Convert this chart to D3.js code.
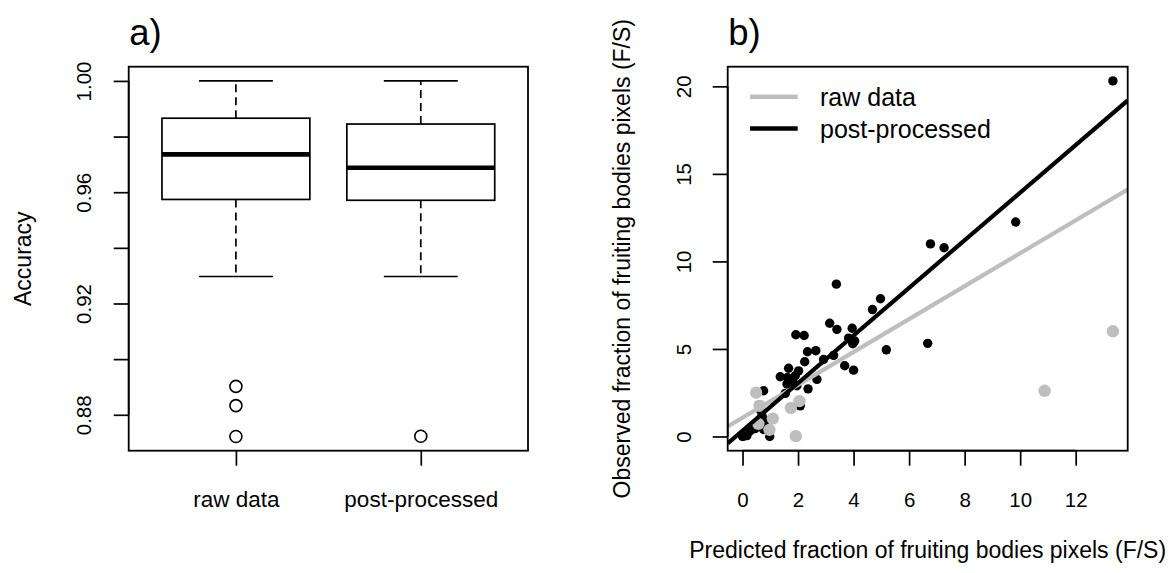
<!DOCTYPE html>
<html><head><meta charset="utf-8">
<script src="https://cdn.jsdelivr.net/npm/d3@7"></script>
<style>
body{margin:0;background:#fff}
svg{display:block;background:#fff}
text{font-family:"Liberation Sans",Arial,Helvetica,sans-serif;fill:#000}
</style>
</head><body>
<svg id="chart" width="1169" height="573"></svg>
<script>
// ---------- data: panel a (box plot) ----------
const groups = ["raw data", "post-processed"];
const whiskerHigh = [1.0, 1.0];
const boxQ3 = [0.9866, 0.9845];
const boxMedian = [0.9736, 0.9688];
const boxQ1 = [0.9574, 0.9571];
const whiskerLow = [0.9297, 0.9297];
const outliersRaw = [0.8902, 0.8833, 0.8722];
const outliersPost = [0.8723];
const accTicks = [0.88, 0.90, 0.92, 0.94, 0.96, 0.98, 1.00];
const accTickLabels = ["0.88", "", "0.92", "", "0.96", "", "1.00"];

// ---------- data: panel b (scatter) ----------
const rawX = [0.49, 0.57, 0.62, 1.09, 0.97, 1.74, 2.05, 1.92, 10.88, 13.34];
const rawY = [2.50, 0.72, 1.75, 1.02, 0.38, 1.63, 2.02, 0.02, 2.61, 6.01];
const postX = [13.34, 9.84, 6.77, 7.26, 6.67, 5.18, 4.97, 4.68, 3.38, 3.14,
  3.40, 3.95, 3.82, 3.97, 4.04, 1.92, 2.22, 2.34, 2.64, 2.24,
  2.92, 3.28, 3.68, 4.00, 1.66, 2.02, 1.36, 1.62, 1.90, 2.68,
  2.36, 1.96, 1.60, 1.54, 1.82, 0.76, 0.58, 0.70, 0.76, 0.98,
  0.00, 0.06, 0.16, 0.28, 0.40, 2.08, 0.65, 0.45, 0.82];
const postY = [20.31, 12.25, 11.00, 10.78, 5.32, 4.95, 7.87, 7.25, 8.70, 6.47,
  6.12, 6.18, 5.62, 5.30, 5.45, 5.81, 5.77, 4.84, 4.90, 4.27,
  4.40, 4.63, 4.04, 3.79, 3.90, 3.75, 3.41, 3.37, 3.47, 3.26,
  2.72, 2.90, 3.00, 2.46, 3.10, 2.61, 1.79, 1.20, 0.40, 0.00,
  0.00, 0.03, 0.05, 0.33, 0.55, 1.75, 1.50, 0.45, 0.90];
const fitRaw = [1.07, 0.94];   // intercept, slope
const fitPost = [0.33, 1.36];  // intercept, slope
const xTicks = [0, 2, 4, 6, 8, 10, 12];
const yTicks = [0, 5, 10, 15, 20];
const legendLabels = ["raw data", "post-processed"];

// ---------- layout ----------
const GREY = "#BEBEBE";
const pTop = 66.7, pBottom = 450.7;
const pA = {l: 128.7, r: 528};
const pB = {l: 727.7, r: 1127.7};
const svg = d3.select("#chart");
svg.append("rect").attr("width", 1169).attr("height", 573).attr("fill", "#fff");

function padDomain(lo, hi) { const d = (hi - lo) * 0.04; return [lo - d, hi + d]; }

function styleAxis(g) {
  g.selectAll("line").attr("stroke", "#000").attr("stroke-width", 1.7);
  g.select(".domain").remove();
}

// ================= panel a =================
const allAcc = [...whiskerHigh, ...whiskerLow, ...outliersRaw, ...outliersPost];
const yA = d3.scaleLinear().domain(padDomain(d3.min(allAcc), d3.max(allAcc))).range([pBottom, pTop]);
const xA = d3.scaleLinear().domain([0.42, 2.58]).range([pA.l, pA.r]);
const gA = svg.append("g");
const outliers = [outliersRaw, outliersPost];

groups.forEach((name, i) => {
  const cx = xA(i + 1);
  const hw = xA(0.4) - xA(0);
  const cw = xA(0.2) - xA(0);
  gA.append("line").attr("x1", cx).attr("x2", cx).attr("y1", yA(boxQ3[i])).attr("y2", yA(whiskerHigh[i]))
    .attr("stroke", "#000").attr("stroke-width", 1.7).attr("stroke-dasharray", "8,5");
  gA.append("line").attr("x1", cx).attr("x2", cx).attr("y1", yA(boxQ1[i])).attr("y2", yA(whiskerLow[i]))
    .attr("stroke", "#000").attr("stroke-width", 1.7).attr("stroke-dasharray", "8,5");
  [whiskerHigh[i], whiskerLow[i]].forEach(v => {
    gA.append("line").attr("x1", cx - cw).attr("x2", cx + cw).attr("y1", yA(v)).attr("y2", yA(v))
      .attr("stroke", "#000").attr("stroke-width", 1.7);
  });
  gA.append("rect").attr("x", cx - hw).attr("width", 2 * hw)
    .attr("y", yA(boxQ3[i])).attr("height", yA(boxQ1[i]) - yA(boxQ3[i]))
    .attr("fill", "#fff").attr("stroke", "#000").attr("stroke-width", 1.7);
  gA.append("line").attr("x1", cx - hw).attr("x2", cx + hw).attr("y1", yA(boxMedian[i])).attr("y2", yA(boxMedian[i]))
    .attr("stroke", "#000").attr("stroke-width", 4.6);
  gA.selectAll(null).data(outliers[i]).enter().append("circle")
    .attr("cx", cx).attr("cy", d => yA(d)).attr("r", 6)
    .attr("fill", "none").attr("stroke", "#000").attr("stroke-width", 1.6);
});

gA.append("rect").attr("x", pA.l).attr("y", pTop).attr("width", pA.r - pA.l).attr("height", pBottom - pTop)
  .attr("fill", "none").attr("stroke", "#000").attr("stroke-width", 1.8);

const axYA = gA.append("g").attr("transform", `translate(${pA.l},0)`)
  .call(d3.axisLeft(yA).tickValues(accTicks).tickSize(15).tickFormat((d, i) => accTickLabels[i]));
styleAxis(axYA);
axYA.selectAll("text").attr("x", 0).attr("dy", 0).attr("text-anchor", "middle")
  .attr("transform", "translate(-38,0) rotate(-90)").style("font-size", "20.5px");
gA.append("line").attr("x1", pA.l).attr("x2", pA.l).attr("y1", yA(accTicks[0])).attr("y2", yA(accTicks[accTicks.length - 1]))
  .attr("stroke", "#000").attr("stroke-width", 1.7);

const axXA = gA.append("g").attr("transform", `translate(0,${pBottom})`)
  .call(d3.axisBottom(xA).tickValues([1, 2]).tickSize(15).tickFormat((d) => groups[d - 1]));
styleAxis(axXA);
axXA.selectAll("text").attr("y", 56).attr("dy", 0).style("font-size", "22.5px");

gA.append("text").attr("transform", `translate(31,${(pTop + pBottom) / 2}) rotate(-90)`)
  .attr("text-anchor", "middle").style("font-size", "23px").text("Accuracy");
gA.append("text").attr("x", pA.l + 0.6).attr("y", 45).style("font-size", "36.5px").text("a)");

// ================= panel b =================
const xB = d3.scaleLinear().domain(padDomain(d3.min([...rawX, ...postX]), d3.max([...rawX, ...postX]))).range([pB.l, pB.r]);
const yB = d3.scaleLinear().domain(padDomain(d3.min([...rawY, ...postY]), d3.max([...rawY, ...postY]))).range([pBottom, pTop]);
const gB = svg.append("g");
svg.append("clipPath").attr("id", "clipB").append("rect")
  .attr("x", pB.l).attr("y", pTop).attr("width", pB.r - pB.l).attr("height", pBottom - pTop);

const plotB = gB.append("g").attr("clip-path", "url(#clipB)");
plotB.selectAll("circle.post").data(postX.map((x, i) => [x, postY[i]])).enter().append("circle")
  .attr("class", "post").attr("cx", d => xB(d[0])).attr("cy", d => yB(d[1])).attr("r", 4.7).attr("fill", "#000");
plotB.selectAll("circle.raw").data(rawX.map((x, i) => [x, rawY[i]])).enter().append("circle")
  .attr("class", "raw").attr("cx", d => xB(d[0])).attr("cy", d => yB(d[1])).attr("r", 6.2).attr("fill", GREY);

const xd = xB.domain();
[[fitRaw, GREY], [fitPost, "#000"]].forEach(([f, col]) => {
  plotB.append("line")
    .attr("x1", xB(xd[0])).attr("y1", yB(f[0] + f[1] * xd[0]))
    .attr("x2", xB(xd[1])).attr("y2", yB(f[0] + f[1] * xd[1]))
    .attr("stroke", col).attr("stroke-width", 4.2);
});

gB.append("rect").attr("x", pB.l).attr("y", pTop).attr("width", pB.r - pB.l).attr("height", pBottom - pTop)
  .attr("fill", "none").attr("stroke", "#000").attr("stroke-width", 1.8);

const axYB = gB.append("g").attr("transform", `translate(${pB.l},0)`)
  .call(d3.axisLeft(yB).tickValues(yTicks).tickSize(15).tickFormat(d3.format("d")));
styleAxis(axYB);
axYB.selectAll("text").attr("x", 0).attr("dy", 0).attr("text-anchor", "middle")
  .attr("transform", "translate(-37,0) rotate(-90)").style("font-size", "20.5px");
gB.append("line").attr("x1", pB.l).attr("x2", pB.l).attr("y1", yB(yTicks[0])).attr("y2", yB(yTicks[yTicks.length - 1]))
  .attr("stroke", "#000").attr("stroke-width", 1.7);

const axXB = gB.append("g").attr("transform", `translate(0,${pBottom})`)
  .call(d3.axisBottom(xB).tickValues(xTicks).tickSize(15).tickFormat(d3.format("d")));
styleAxis(axXB);
axXB.selectAll("text").attr("y", 56).attr("dy", 0).style("font-size", "20.5px");
gB.append("line").attr("y1", pBottom).attr("y2", pBottom).attr("x1", xB(xTicks[0])).attr("x2", xB(xTicks[xTicks.length - 1]))
  .attr("stroke", "#000").attr("stroke-width", 1.7);

gB.append("text").attr("x", (pB.l + pB.r) / 2).attr("y", 558).attr("text-anchor", "middle")
  .style("font-size", "23px").text("Predicted fraction of fruiting bodies pixels (F/S)");
gB.append("text").attr("transform", `translate(${pB.l - 97.7},${(pTop + pBottom) / 2}) rotate(-90)`)
  .attr("text-anchor", "middle").style("font-size", "23px").text("Observed fraction of fruiting bodies pixels (F/S)");
gB.append("text").attr("x", pB.l + 0.6).attr("y", 45).style("font-size", "36.5px").text("b)");

const leg = gB.append("g").attr("transform", `translate(${pB.l},${pTop})`);
[GREY, "#000"].forEach((col, i) => {
  const yy = 30.1 + i * 31.8;
  leg.append("line").attr("x1", 22.3).attr("x2", 70).attr("y1", yy).attr("y2", yy)
    .attr("stroke", col).attr("stroke-width", 4.5);
  leg.append("text").attr("x", 92.3).attr("y", yy + 9.5).style("font-size", "25px").text(legendLabels[i]);
});
</script>
</body></html>
